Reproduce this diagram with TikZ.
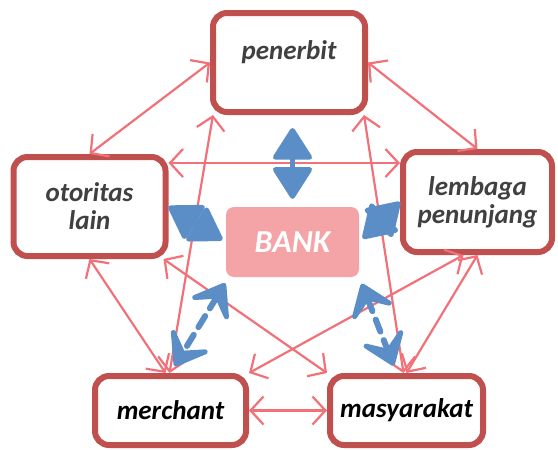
\documentclass[tikz,border=0pt]{standalone}
\usepackage{fontspec}
\setmainfont{Carlito}
\usetikzlibrary{positioning, calc, arrows.meta}

\definecolor{boxred}{RGB}{192,80,77}
\definecolor{linkpink}{RGB}{242,112,120}
\definecolor{bankpink}{RGB}{244,164,166}
\definecolor{bankblue}{RGB}{91,142,199}
\definecolor{textgray}{RGB}{64,64,64}

\begin{document}
\begin{tikzpicture}[
        x=1pt, y=-1pt,
        party/.style={rectangle, draw=boxred, line width=6pt, rounded corners=14pt,
            fill=white, text=textgray, align=center, minimum width=152pt, minimum height=99pt,
            font=\fontsize{27}{28}\selectfont\bfseries\itshape},
        bank/.style={rectangle, fill=bankpink, rounded corners=8pt, text=white,
            minimum width=133pt, minimum height=70pt,
            font=\fontsize{32}{34}\selectfont\bfseries\itshape},
        link/.style={draw=linkpink, line width=2.2pt,
            {Straight Barb[length=13pt,width=28pt]}-{Straight Barb[length=13pt,width=28pt]}},
        flow/.style={draw=bankblue, line width=5pt, line join=round,
            {Triangle[round,length=34pt,width=42pt]}-{Triangle[round,length=34pt,width=42pt]}},
        flowdash/.style={draw=bankblue, line width=6pt, line cap=round, dash pattern=on 13pt off 9pt,
            {Stealth[round,length=40pt,width=58pt,inset=20pt]}-{Stealth[round,length=40pt,width=58pt,inset=20pt]}}
    ]
    \useasboundingbox (0,0) rectangle (558,450);

    % Centre
    \node[bank] (bank) at (292.5,242) {BANK};

    % Parties
    \node[party, text depth=25pt] (penerbit) at (289,62.5) {penerbit};
    \node[party] (otoritas) at (89.5,206.5) {otoritas\\lain};
    \node[party, minimum width=149pt, minimum height=100pt] (lembaga) at (477.5,202) {lembaga\\penunjang};
    \node[party, minimum width=151pt, minimum height=69pt, text=black] (merchant) at (170.5,410.5) {merchant};
    \node[party, minimum width=153pt, minimum height=69pt, text=black] (masyarakat) at (406.5,410.5) {masyarakat};

    % Links between parties
    \draw[link] (penerbit.west) -- (otoritas.north);
    \draw[link] (penerbit.east) -- (lembaga.north);
    \draw[link] ([yshift=-9pt]otoritas.north east) coordinate (o1) -- (o1 -| lembaga.west);
    \draw[link] ([xshift=3pt]penerbit.south west) -- ([xshift=-1pt]merchant.north);
    \draw[link] ([xshift=-4pt]penerbit.south east) -- ([xshift=-3pt]masyarakat.north);
    \draw[link] (otoritas.south) -- ([xshift=-5pt]merchant.north);
    \draw[link] ([xshift=-5pt]otoritas.south east) -- (masyarakat.north west);
    \draw[link] ([xshift=-14pt]lembaga.south) -- (merchant.north east);
    \draw[link] (lembaga.south) -- (masyarakat.north);
    \draw[link] (merchant.east) -- (masyarakat.west);

    % Links to the bank
    \draw[flow, shorten <=8pt, shorten >=13pt] (bank.north) -- (bank.north |- penerbit.south);
    \draw[flow, shorten <=4pt] (bank.west) -- (otoritas.east);
    \draw[flow, shorten <=5pt] (bank.east) -- (lembaga.west);
    \draw[flowdash, shorten <=7pt, shorten >=8pt] ([xshift=3pt]bank.south west) -- (merchant.north);
    \draw[flowdash, shorten <=7pt, shorten >=8pt] (bank.south east) -- ([xshift=-10pt]masyarakat.north);

\end{tikzpicture}
\end{document}
